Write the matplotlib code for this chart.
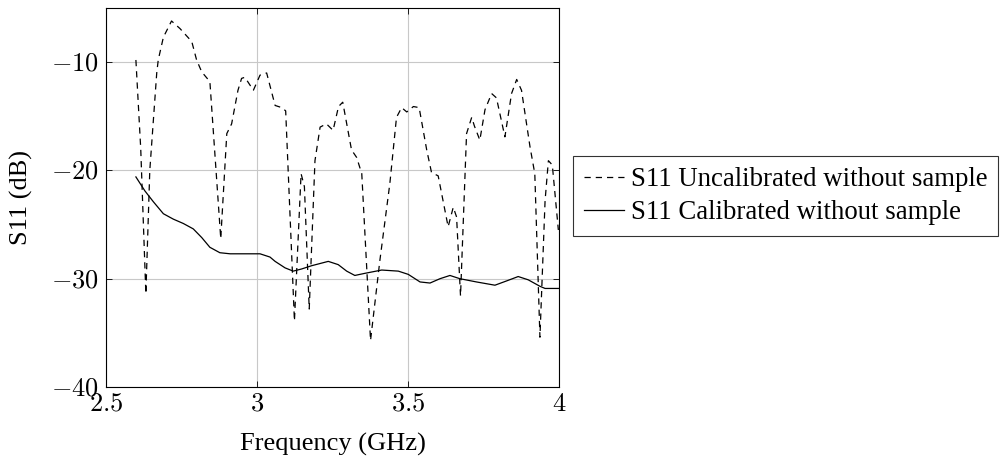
import numpy as np
import matplotlib
matplotlib.use("Agg")
import matplotlib.pyplot as plt
from matplotlib.ticker import FuncFormatter

plt.rcParams['font.family'] = ['Liberation Serif', 'DejaVu Serif']
plt.rcParams['mathtext.fontset'] = 'cm'

# S11 uncalibrated (dashed)
freq_uncal = [2.599, 2.615, 2.632, 2.645, 2.668, 2.673, 2.69, 2.717, 2.745, 2.784, 2.80,
              2.817, 2.844, 2.88, 2.90, 2.916, 2.937, 2.949, 2.96, 2.988, 3.01, 3.032,
              3.06, 3.082, 3.095, 3.124, 3.146, 3.157, 3.173, 3.192, 3.209, 3.23, 3.252,
              3.27, 3.284, 3.313, 3.33, 3.347, 3.376, 3.407, 3.44, 3.462, 3.479, 3.496,
              3.518, 3.537, 3.562, 3.578, 3.60, 3.633, 3.65, 3.661, 3.674, 3.694, 3.711,
              3.72, 3.738, 3.755, 3.777, 3.793, 3.821, 3.843, 3.86, 3.876, 3.904, 3.92,
              3.937, 3.954, 3.965, 3.978, 3.998]
s11_uncal = [-9.8, -18.0, -31.4, -20.0, -11.0, -9.8, -7.7, -6.2, -6.9, -8.1, -9.8,
             -10.9, -11.8, -26.3, -16.6, -15.7, -12.6, -11.5, -11.4, -12.6, -11.2, -11.0,
             -14.0, -14.2, -14.5, -33.9, -20.3, -21.5, -32.8, -19.1, -16.0, -15.7, -16.3,
             -14.1, -13.7, -18.1, -18.8, -20.3, -35.7, -28.3, -21.2, -15.1, -14.2, -14.6,
             -14.1, -14.2, -18.1, -20.2, -20.5, -25.2, -23.4, -24.3, -31.6, -16.6, -15.1,
             -15.9, -17.2, -14.4, -12.9, -13.3, -16.9, -12.9, -11.6, -12.6, -17.8, -20.3,
             -35.4, -22.8, -19.1, -19.5, -25.5]

# S11 calibrated (solid)
freq_cal = [2.599, 2.629, 2.657, 2.690, 2.723, 2.756, 2.789, 2.817, 2.844, 2.877, 2.911,
            2.966, 3.01, 3.043, 3.06, 3.093, 3.12, 3.148, 3.181, 3.236, 3.269, 3.297,
            3.324, 3.358, 3.413, 3.468, 3.501, 3.54, 3.573, 3.606, 3.639, 3.672, 3.727,
            3.788, 3.827, 3.865, 3.898, 3.937, 3.954, 3.998]
s11_cal = [-20.6, -21.9, -22.9, -24.0, -24.5, -24.9, -25.4, -26.2, -27.1, -27.6, -27.7,
           -27.7, -27.7, -28.0, -28.4, -29.0, -29.3, -29.1, -28.8, -28.4, -28.7, -29.3,
           -29.7, -29.5, -29.2, -29.3, -29.6, -30.3, -30.4, -30.0, -29.7, -30.0, -30.3,
           -30.6, -30.2, -29.8, -30.1, -30.7, -30.9, -30.9]

fig = plt.figure(figsize=(10.01, 4.57), dpi=100)
ax = fig.add_axes([0.1059, 0.1532, 0.4525, 0.8293])

ax.plot(freq_uncal, s11_uncal, color='black', linestyle=(0, (5, 4)), linewidth=0.9,
        label='S11 Uncalibrated without sample')
ax.plot(freq_cal, s11_cal, color='black', linestyle='-', linewidth=0.9,
        label='S11 Calibrated without sample')

ax.set_xlim(2.5, 4)
ax.set_ylim(-40, -5)
ax.set_xticks([2.5, 3, 3.5, 4])
ax.set_yticks([-40, -30, -20, -10])
ax.xaxis.set_major_formatter(FuncFormatter(lambda v, p: '$%g$' % v))
ax.yaxis.set_major_formatter(FuncFormatter(lambda v, p: '$%g$' % v))
ax.tick_params(direction='in', length=4, width=0.6, labelsize=19, top=True, right=True,
               pad=5)
ax.grid(True, color='#c8c8c8', linewidth=0.8)
for s in ax.spines.values():
    s.set_linewidth(0.8)

ax.set_xlabel('Frequency (GHz)', fontsize=19, labelpad=12)
ax.set_ylabel('S11 (dB)', fontsize=19, labelpad=13)

leg = ax.legend(loc='center left', bbox_to_anchor=(1.032, 0.504), fontsize=19.3, frameon=True,
                fancybox=False, edgecolor='black', handlelength=1.5, handletextpad=0.25,
                borderpad=0.4, labelspacing=0.3, borderaxespad=0)
leg.get_frame().set_linewidth(0.8)

fig.savefig('out.png', dpi=100)
